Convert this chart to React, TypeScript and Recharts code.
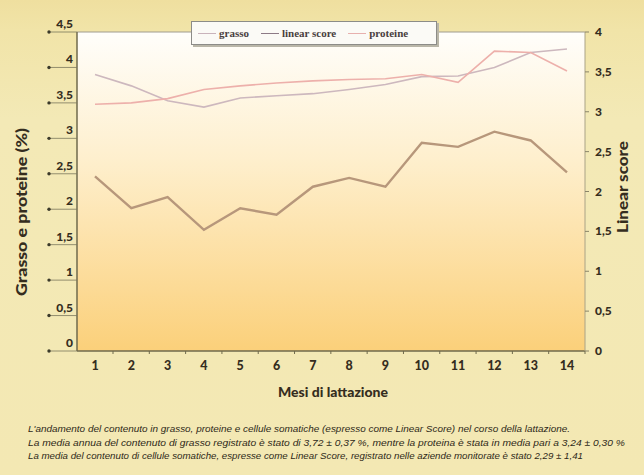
import React from 'react';
import { ComposedChart, Line, XAxis, YAxis, CartesianGrid, ReferenceLine } from 'recharts';

// Months of lactation
const mesi = ['1', '2', '3', '4', '5', '6', '7', '8', '9', '10', '11', '12', '13', '14'];

// Fat content (%) – left axis
const grasso = [3.9, 3.74, 3.53, 3.44, 3.57, 3.6, 3.63, 3.69, 3.76, 3.87, 3.88, 4.0, 4.21, 4.26];

// Protein content (%) – left axis
const proteine = [3.48, 3.5, 3.56, 3.69, 3.74, 3.78, 3.81, 3.83, 3.84, 3.9, 3.79, 4.23, 4.21, 3.95];

// Somatic cells as Linear Score – right axis
const linearScore = [2.19, 1.79, 1.93, 1.52, 1.79, 1.71, 2.06, 2.17, 2.06, 2.61, 2.56, 2.75, 2.64, 2.24];

const leftTicks = [0, 0.5, 1, 1.5, 2, 2.5, 3, 3.5, 4, 4.5];
const rightTicks = [0, 0.5, 1, 1.5, 2, 2.5, 3, 3.5, 4];

const captionLines = [
  "L'andamento del contenuto in grasso, proteine e cellule somatiche (espresso come Linear Score) nel corso della lattazione.",
  'La media annua del contenuto di grasso registrato è stato di 3,72 ± 0,37 %, mentre la proteina è stata in media pari a 3,24 ± 0,30 %',
  'La media del contenuto di cellule somatiche, espresse come Linear Score, registrato nelle aziende monitorate è stato 2,29 ± 1,41',
];

const data = mesi.map((m, i) => ({
  mese: m,
  grasso: grasso[i],
  linear: linearScore[i],
  proteine: proteine[i],
}));

const series = [
  { key: 'grasso', name: 'grasso', color: '#cdb8be', legend: '#c9b3bb', width: 1.6, axis: 'left' },
  { key: 'linear', name: 'linear score', color: '#b7977b', legend: '#8d7a86', width: 2.4, axis: 'right' },
  { key: 'proteine', name: 'proteine', color: '#edb0ab', legend: '#e7b0ae', width: 1.6, axis: 'left' },
];

const fmt = (v: number) => String(v).replace('.', ',');

const TICK_FONT = 'Lato, "Open Sans", sans-serif';
const INK = '#352d1e';

const LeftTick = (props: any) => {
  const { x, y, payload } = props;
  return (
    <g>
      <line x1={x - 28} x2={x} y1={y} y2={y} stroke="#7a765c" strokeWidth={0.8} />
      <circle cx={x - 28} cy={y} r={1.7} fill="#3b3a2a" />
      <text x={x - 4} y={y - 4} textAnchor="end" fontFamily={TICK_FONT} fontWeight={900} fontSize={12} fill={INK}>
        {fmt(payload.value)}
      </text>
    </g>
  );
};

const RightTick = (props: any) => {
  const { x, y, payload } = props;
  return (
    <g>
      <line x1={x} x2={x + 4} y1={y} y2={y} stroke="#8a8468" strokeWidth={1} />
      <text x={x + 10} y={y + 4} textAnchor="start" fontFamily={TICK_FONT} fontWeight={900} fontSize={12} fill={INK}>
        {fmt(payload.value)}
      </text>
    </g>
  );
};

const BottomTick = (props: any) => {
  const { x, y, payload } = props;
  return (
    <g>
      <line x1={x + 18} x2={x + 18} y1={y} y2={y + 3} stroke="#6f6a4c" strokeWidth={1} />
      <text x={x} y={y + 19} textAnchor="middle" fontFamily={TICK_FONT} fontWeight={900} fontSize={12.5} fill={INK}>
        {payload.value}
      </text>
    </g>
  );
};

export default function App() {
  return (
    <div
      style={{
        position: 'absolute',
        left: 0,
        top: 0,
        width: 644,
        height: 475,
        background: 'linear-gradient(to bottom, #efdf9f 0px, #f1e4a8 30px, #f3e9b6 120px, #f3e8b3 475px)',
        overflow: 'hidden',
      }}
    >
      <ComposedChart
        width={644}
        height={475}
        data={data}
        margin={{ top: 32, right: 9, bottom: 94, left: 17 }}
      >
        <defs>
          <linearGradient id="plotFill" x1="0" y1="0" x2="0" y2="1">
            <stop offset="0%" stopColor="#fffefb" />
            <stop offset="40%" stopColor="#feefcd" />
            <stop offset="100%" stopColor="#fbd07a" />
          </linearGradient>
        </defs>
        <CartesianGrid
          yAxisId="left"
          horizontal={false}
          vertical={false}
          fill="url(#plotFill)"
          fillOpacity={1}
          stroke="none"
        />
        <XAxis
          dataKey="mese"
          height={30}
          padding={{ left: 18, right: 18 }}
          tickSize={0}
          tickMargin={0}
          tick={<BottomTick />}
          axisLine={{ stroke: '#6f6a4c', strokeWidth: 1.5 }}
          tickLine={false}
          interval={0}
        />
        <YAxis
          yAxisId="left"
          orientation="left"
          width={60}
          domain={[0, 4.5]}
          ticks={leftTicks}
          tickSize={0}
          tickMargin={0}
          tick={<LeftTick />}
          axisLine={{ stroke: '#6f6a4c', strokeWidth: 1.5 }}
          tickLine={false}
          interval={0}
        />
        <YAxis
          yAxisId="right"
          orientation="right"
          width={50}
          domain={[0, 4]}
          ticks={rightTicks}
          tickSize={0}
          tickMargin={0}
          tick={<RightTick />}
          axisLine={{ stroke: '#aaa386', strokeWidth: 1 }}
          tickLine={false}
          interval={0}
        />
        <ReferenceLine yAxisId="left" y={4.5} stroke="#a09c90" strokeWidth={1} />
        {series.map((s) => (
          <Line
            key={s.key}
            yAxisId={s.axis}
            dataKey={s.key}
            name={s.name}
            type="linear"
            stroke={s.color}
            strokeWidth={s.width}
            dot={false}
            activeDot={false}
            isAnimationActive={false}
          />
        ))}
      </ComposedChart>

      {/* Legend box */}
      <div
        style={{
          position: 'absolute',
          left: 191,
          top: 21,
          width: 246,
          height: 24,
          background: '#fbfaf6',
          border: '1px solid #8c8c88',
          boxShadow: '2px 2px 0 #b9b6a8',
          display: 'flex',
          alignItems: 'center',
          boxSizing: 'border-box',
          paddingLeft: 6,
        }}
      >
        {series.map((s) => (
          <div key={s.key} style={{ display: 'flex', alignItems: 'center', marginRight: 12 }}>
            <div style={{ width: 18, height: 0, borderTop: `1.5px solid ${s.legend}`, marginRight: 3 }} />
            <span
              style={{
                fontFamily: '"Liberation Serif", "DejaVu Serif", serif',
                fontWeight: 700,
                fontSize: 11,
                color: '#4a3f3f',
              }}
            >
              {s.name}
            </span>
          </div>
        ))}
      </div>

      {/* Axis titles and caption */}
      <svg width={644} height={475} style={{ position: 'absolute', left: 0, top: 0, pointerEvents: 'none' }}>
        <text
          transform="translate(27,212) rotate(-90)"
          textAnchor="middle"
          fontFamily={TICK_FONT}
          fontWeight={900}
          fontSize={14.5}
          fill={INK}
          textLength={168}
          lengthAdjust="spacingAndGlyphs"
        >
          Grasso e proteine (%)
        </text>
        <text
          transform="translate(628,187) rotate(-90)"
          textAnchor="middle"
          fontFamily={TICK_FONT}
          fontWeight={900}
          fontSize={14.5}
          fill={INK}
          textLength={92}
          lengthAdjust="spacingAndGlyphs"
        >
          Linear score
        </text>
        <text
          x={333}
          y={397}
          textAnchor="middle"
          fontFamily={TICK_FONT}
          fontWeight={900}
          fontSize={14}
          fill={INK}
          textLength={110}
          lengthAdjust="spacingAndGlyphs"
        >
          Mesi di lattazione
        </text>
        {captionLines.map((line, i) => (
          <text
            key={i}
            x={28}
            y={432 + i * 13.5}
            fontFamily='"Liberation Sans", sans-serif'
            fontStyle="italic"
            fontSize={8.5}
            fill="#2e2818"
            textLength={[542, 597, 555][i]}
            lengthAdjust="spacingAndGlyphs"
          >
            {line}
          </text>
        ))}
      </svg>
    </div>
  );
}
